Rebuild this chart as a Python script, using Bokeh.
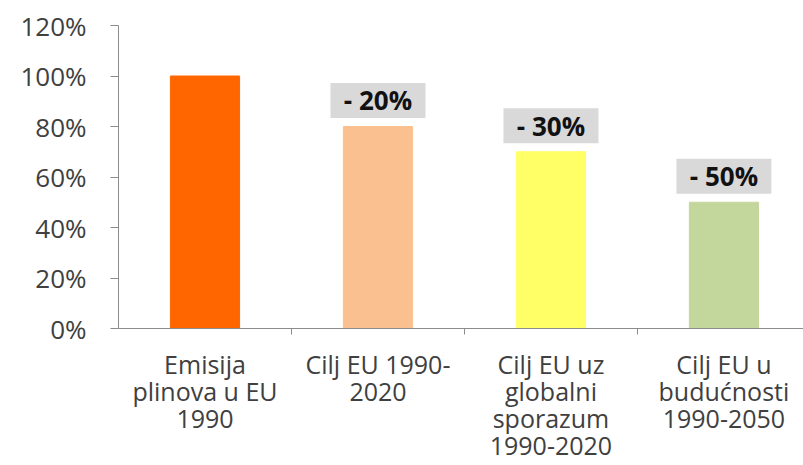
from bokeh.plotting import figure
from bokeh.models import Range1d, FixedTicker, ColumnDataSource, NumeralTickFormatter
from bokeh.transform import dodge
from bokeh.core.properties import value
from bokeh.embed import file_html
from bokeh.resources import INLINE

categories = ["Emisija\nplinova u EU\n1990", "Cilj EU 1990-\n2020",
              "Cilj EU uz\nglobalni\nsporazum\n1990-2020", "Cilj EU u\nbudućnosti\n1990-2050"]
values = [1.00, 0.80, 0.70, 0.50]
colors = ["#FF6600", "#FAC090", "#FFFF66", "#C3D69B"]
change_labels = ["", "- 20%", "- 30%", "- 50%"]

xs = [i + 0.5 for i in range(len(categories))]

p = figure(width=803, height=465, output_backend="svg", toolbar_location=None,
           x_range=Range1d(0, 3.96), y_range=Range1d(0, 1.2),
           min_border_left=118, min_border_right=0, min_border_top=25, min_border_bottom=136)
p.outline_line_color = None
p.xgrid.visible = False
p.ygrid.visible = False

src = ColumnDataSource(dict(x=xs, top=values, color=colors, lab=change_labels))
p.vbar(x="x", top="top", width=0.40, color="color", source=src)

lab_src = ColumnDataSource(dict(x=xs[1:], top=values[1:], lab=change_labels[1:]))
p.rect(x="x", y=dodge("top", 0.103, range=p.y_range), width=95, height=35,
       width_units="screen", height_units="screen", fill_color="#D9D9D9",
       line_color=None, source=lab_src)
p.text(x="x", y=dodge("top", 0.103, range=p.y_range), text="lab", source=lab_src,
       text_align="center", text_baseline="middle", text_font=value("Open Sans"),
       text_font_size="26px", text_font_style="bold", text_color="#111111")

ax = p.yaxis[0]
ax.ticker = FixedTicker(ticks=[0, 0.2, 0.4, 0.6, 0.8, 1.0, 1.2])
ax.formatter = NumeralTickFormatter(format="0%")
ax.axis_line_color = "#8C8C8C"
ax.major_tick_line_color = "#8C8C8C"
ax.major_tick_out = 8
ax.major_tick_in = 0
ax.minor_tick_line_color = None
ax.major_label_standoff = 24
ax.major_label_text_font = "Open Sans"
ax.major_label_text_font_size = "26px"
ax.major_label_text_color = "#404040"

bx = p.xaxis[0]
bx.ticker = FixedTicker(ticks=xs, minor_ticks=[1, 2, 3])
bx.major_label_overrides = {x: c for x, c in zip(xs, categories)}
bx.axis_line_color = "#8C8C8C"
bx.major_tick_line_color = None
bx.major_tick_out = 0
bx.minor_tick_line_color = "#8C8C8C"
bx.minor_tick_out = 6
bx.minor_tick_in = 0
bx.major_label_standoff = 12
bx.major_label_text_font = "Open Sans"
bx.major_label_text_font_size = "25px"
bx.major_label_text_line_height = 0.8
bx.major_label_text_color = "#404040"

open("out.html", "w").write(file_html(p, INLINE))
